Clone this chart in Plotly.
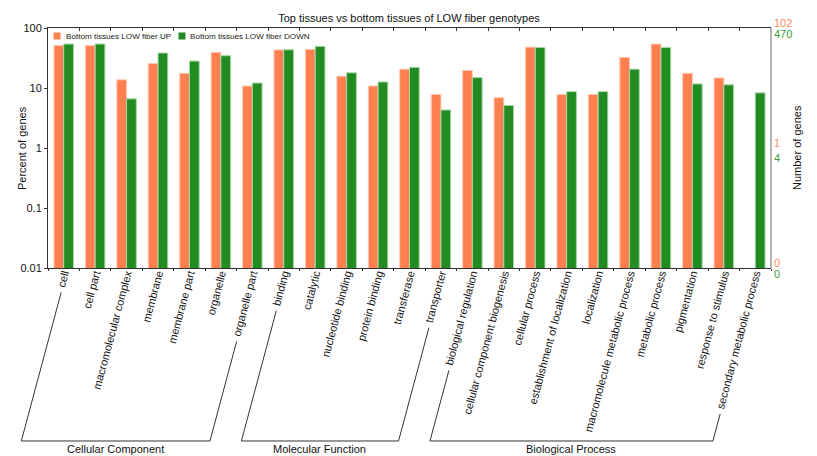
import math
import plotly.graph_objects as go

# GO terms, in plotting order
categories = [
    "cell", "cell part", "macromolecular complex", "membrane", "membrane part",
    "organelle", "organelle part",
    "binding", "catalytic", "nucleotide binding", "protein binding",
    "transferase", "transporter",
    "biological regulation", "cellular component biogenesis", "cellular process",
    "establishment of localization", "localization",
    "macromolecule metabolic process", "metabolic process", "pigmentation",
    "response to stimulus", "secondary metabolic process",
]

# Percent of genes annotated to each term
up_percent = [
    51.0, 51.0, 13.7, 25.5, 17.6, 39.2, 10.8,
    43.1, 44.1, 15.7, 10.8, 20.6, 7.8,
    19.6, 6.9, 48.0, 7.8, 7.8, 32.4, 53.9, 17.6, 14.7, 0.0,
]
down_percent = [
    54.0, 54.0, 6.6, 38.3, 28.1, 34.5, 12.1,
    43.4, 49.4, 17.9, 12.6, 22.1, 4.3,
    14.9, 5.1, 47.4, 8.7, 8.7, 20.6, 47.4, 11.7, 11.3, 8.3,
]

series_names = ["Bottom tissues LOW fiber UP", "Bottom tissues LOW fiber DOWN"]
gene_totals = [102, 470]          # genes in each list (= 100 %)
single_gene_counts = [1, 4]        # count labels shown near the 1 % line

group_names = ["Cellular Component", "Molecular Function", "Biological Process"]
group_first = [0, 7, 13]
group_last = [6, 12, 22]

y_tickvals = [0.01, 0.1, 1, 10, 100]
y_ticktext = ["0.01", "0.1", "1", "10", "100"]

# ---- styling / geometry ----
W, H = 817, 456
ML, MR, MT, MB = 48, 46, 28, 188
PW, PH = W - ML - MR, H - MT - MB
FONT = "Liberation Sans, Arial, sans-serif"
C_UP, C_DOWN = "#FF7F50", "#228B22"
C_UP_TXT, C_DOWN_TXT = "#FF8A5C", "#3A9E3A"
AXIS = "#333333"
ANGLE = 75.0
LABEL_SIZE = 11

# Arial advance widths (1/1000 em) for label length estimates
_W = dict(zip("abcdefghijklmnopqrstuvwxyz ",
              [556, 556, 500, 556, 556, 278, 556, 556, 222, 222, 500, 222, 833,
               556, 556, 556, 556, 333, 500, 278, 556, 500, 722, 500, 500, 500, 278]))


def text_px(s, size):
    return sum(_W.get(ch, 556) for ch in s) * size / 1000.0


def px_to_paper_x(px):
    return (px - ML) / PW


def px_to_paper_y(py):
    return (MT + PH - py) / PH


cw = PW / len(categories)
cos_a, sin_a = math.cos(math.radians(ANGLE)), math.sin(math.radians(ANGLE))
LABEL_END_DX, LABEL_END_DY, LABEL_GAP = 2.5, 5.5, 3.0
BRACKET_Y = 441


def label_start(i):
    cx = ML + (i + 0.5) * cw
    ex, ey = cx + LABEL_END_DX, MT + PH + LABEL_END_DY
    L = text_px(categories[i], LABEL_SIZE) + LABEL_GAP
    return ex - L * cos_a, ey + L * sin_a


fig = go.Figure()
fig.add_trace(go.Bar(x=categories, y=up_percent, name=series_names[0],
                     marker=dict(color=C_UP, line=dict(color="#FFC8B2", width=1)),
                     showlegend=False))
fig.add_trace(go.Bar(x=categories, y=down_percent, name=series_names[1],
                     marker=dict(color=C_DOWN, line=dict(color="#A6D8A6", width=1)),
                     showlegend=False))
# empty trace carrying the top (mirrored) axis
fig.add_trace(go.Scatter(x=[], y=[], xaxis="x2", showlegend=False, hoverinfo="skip"))

shapes = []
annotations = []

# category brackets under the rotated labels
cot = cos_a / sin_a
for name, i0, i1 in zip(group_names, group_first, group_last):
    s0, s1 = label_start(i0), label_start(i1)
    b0 = (s0[0] - (BRACKET_Y - s0[1]) * cot, BRACKET_Y)
    b1 = (s1[0] - (BRACKET_Y - s1[1]) * cot, BRACKET_Y)
    pts = [s0, b0, b1, s1]
    path = "M " + " L ".join(f"{px_to_paper_x(x):.5f},{px_to_paper_y(y):.5f}" for x, y in pts)
    shapes.append(dict(type="path", xref="paper", yref="paper", path=path,
                       line=dict(color=AXIS, width=1)))
    annotations.append(dict(text=name, xref="paper", yref="paper",
                            x=px_to_paper_x((b0[0] + b1[0]) / 2), y=px_to_paper_y(449),
                            xanchor="center", yanchor="middle", showarrow=False,
                            font=dict(family=FONT, size=11, color="#111111")))

# right-hand gene-count axis
shapes.append(dict(type="line", xref="paper", yref="paper", x0=1, x1=1, y0=0, y1=1,
                   line=dict(color="#9a9a9a", width=1.5)))
one_pct = math.log10(100.0 * single_gene_counts[0] / gene_totals[0])
shapes.append(dict(type="line", xref="paper", yref="y", x0=1 - 3 / PW, x1=1,
                   y0=one_pct, y1=one_pct, line=dict(color=AXIS, width=1)))
txt_cols = [C_UP_TXT, C_DOWN_TXT]
shifts = [5.5, -5.5]
for k in range(2):
    for label, yv in [(str(gene_totals[k]), 2.0),
                      (str(single_gene_counts[k]),
                       math.log10(100.0 * single_gene_counts[k] / gene_totals[k])),
                      ("0", -2.0)]:
        annotations.append(dict(text=label, xref="paper", yref="y", x=1, y=yv,
                                xanchor="left", yanchor="middle", xshift=1,
                                yshift=shifts[k], showarrow=False,
                                font=dict(family=FONT, size=11, color=txt_cols[k])))

annotations.append(dict(text="Number of genes", xref="paper", yref="paper",
                        x=px_to_paper_x(797), y=0.5, textangle=-90, showarrow=False,
                        xanchor="center", yanchor="middle",
                        font=dict(family=FONT, size=11, color="#111111")))
annotations.append(dict(text="Percent of genes", xref="paper", yref="paper",
                        x=px_to_paper_x(22), y=0.5, textangle=-90, showarrow=False,
                        xanchor="center", yanchor="middle",
                        font=dict(family=FONT, size=11, color="#111111")))

# legend drawn inside the top-left corner
leg_y = px_to_paper_y(36)
leg_items = [(57.0, 63.5), (182.0, 188.0)]
for k, (sq_x, tx_x) in enumerate(leg_items):
    shapes.append(dict(type="rect", xref="paper", yref="paper",
                       x0=px_to_paper_x(sq_x - 3.5), x1=px_to_paper_x(sq_x + 3.5),
                       y0=px_to_paper_y(39.5), y1=px_to_paper_y(32.5),
                       fillcolor=[C_UP, C_DOWN][k], line=dict(width=0)))
    annotations.append(dict(text=series_names[k], xref="paper", yref="paper",
                            x=px_to_paper_x(tx_x), y=leg_y, xanchor="left",
                            yanchor="middle", showarrow=False,
                            font=dict(family=FONT, size=8.1, color="#222222")))

fig.update_layout(
    width=W, height=H,
    margin=dict(l=ML, r=MR, t=MT, b=MB, pad=0),
    paper_bgcolor="white", plot_bgcolor="white",
    font=dict(family=FONT, size=11, color="#111111"),
    title=dict(text="Top tissues vs bottom tissues of LOW fiber genotypes",
               x=px_to_paper_x(409), xref="paper", xanchor="center",
               y=1 - 18 / H, yanchor="middle", font=dict(family=FONT, size=11)),
    barmode="group", bargap=0.38, bargroupgap=0.0,
    xaxis=dict(type="category", range=[-0.5, len(categories) - 0.5],
               tickangle=-ANGLE, tickson="boundaries", ticks="outside", ticklen=2,
               tickcolor=AXIS, showline=True, linecolor=AXIS, linewidth=1,
               showgrid=False, zeroline=False, ticklabelstandoff=-6,
               tickfont=dict(family=FONT, size=LABEL_SIZE, color="#111111")),
    xaxis2=dict(overlaying="x", side="top", anchor="y", type="linear",
                range=[-0.5, len(categories) - 0.5],
                tickvals=[k + 0.5 for k in range(len(categories) - 1)],
                ticks="inside", ticklen=3, tickcolor=AXIS, showticklabels=False,
                showline=True, linecolor=AXIS, linewidth=1, showgrid=False,
                zeroline=False),
    yaxis=dict(type="log", range=[-2, 2], tickvals=y_tickvals, ticktext=y_ticktext,
               ticks="outside", ticklen=3, tickcolor=AXIS, showline=True,
               linecolor=AXIS, linewidth=1, showgrid=False, zeroline=False,
               tickfont=dict(family=FONT, size=11, color="#111111")),
    shapes=shapes,
    annotations=annotations,
)

fig.write_html("out.html")
